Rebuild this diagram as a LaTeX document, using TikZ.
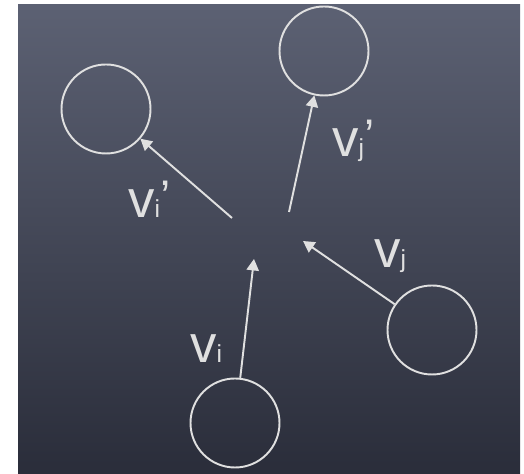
\documentclass[tikz,border=0pt]{standalone}
\usepackage{fontspec}
\setmainfont{Liberation Sans}
\usetikzlibrary{arrows.meta}
\definecolor{boardtop}{RGB}{92,97,115}
\definecolor{boardmid}{RGB}{66,70,86}
\definecolor{boardbot}{RGB}{42,45,58}
\definecolor{chalk}{RGB}{224,224,224}
\tikzstyle{ball} = [circle, minimum size=1.78cm, draw=chalk, line width=1.1pt]
\tikzstyle{arrow} = [draw=chalk, line width=1.1pt, -{Triangle[length=6.5pt,width=7pt]}]
\tikzstyle{lab} = [text=chalk, inner sep=0pt, anchor=base west]
\newcommand{\vel}[2]{{\fontsize{30}{30}\selectfont v}{\fontsize{14}{14}\selectfont #1}#2}
\newcommand{\prm}{\raisebox{3pt}{\fontsize{26}{26}\selectfont ’}}

\begin{document}
\begin{tikzpicture}
\useasboundingbox (0,0) rectangle (10.48,9.48);
% chalkboard
\shade[top color=boardtop, middle color=boardmid, bottom color=boardbot] (0.36,0) rectangle (10.40,9.38);

\node (ini) [ball] at (4.70,1.02) {};
\node (inj) [ball] at (8.64,2.88) {};
\node (outi) [ball] at (2.12,7.30) {};
\node (outj) [ball] at (6.48,8.46) {};

\coordinate (headi) at (5.08,4.30);
\coordinate (headj) at (6.06,4.66);
\coordinate (taili) at (4.64,5.12);
\coordinate (tailj) at (5.78,5.24);

\draw [arrow] (ini) -- (headi);
\draw [arrow] (inj) -- (headj);
\draw [arrow] (taili) -- (outi);
\draw [arrow] (tailj) -- (outj);

\node (li) [lab] at (3.80,2.22) {\vel{i}{}};
\node (lj) [lab] at (7.48,4.12) {\vel{j}{}};
\node (lip) [lab] at (2.56,5.12) {\vel{i}{\prm}};
\node (ljp) [lab] at (6.64,6.34) {\vel{j}{\prm}};
\end{tikzpicture}
\end{document}
